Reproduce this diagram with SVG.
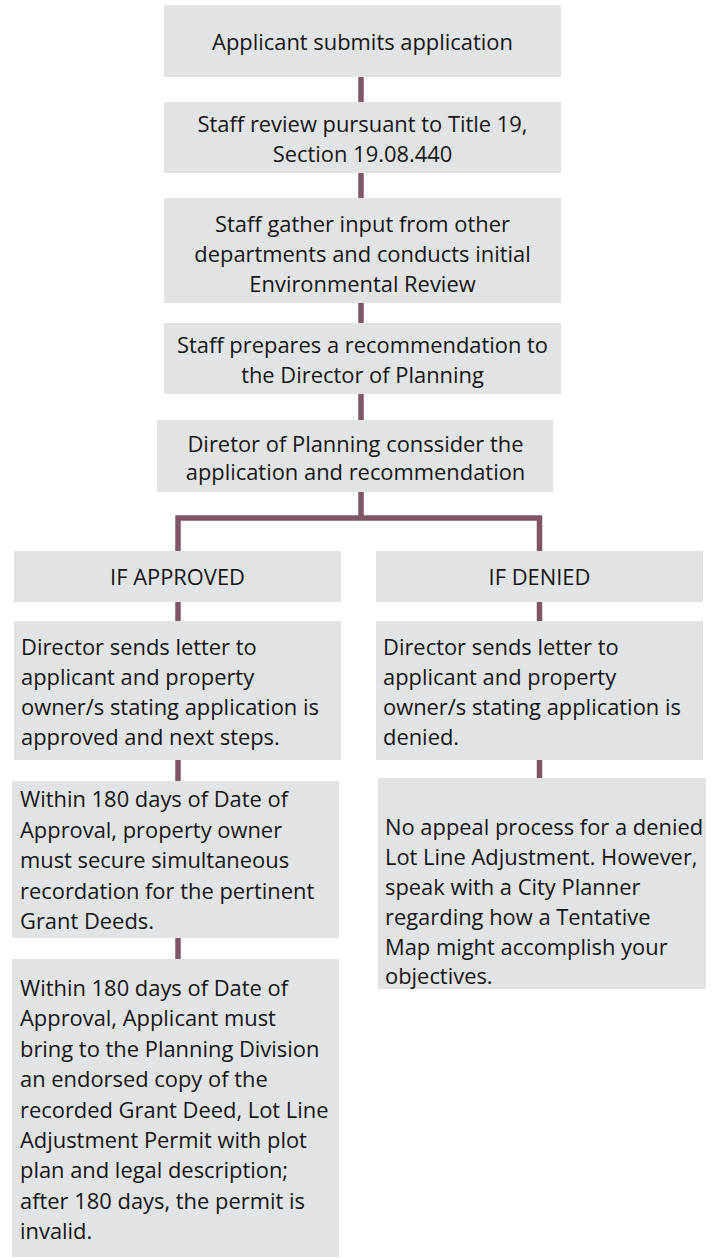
<svg xmlns="http://www.w3.org/2000/svg" width="714" height="1258" viewBox="0 0 714 1258">
<style>
.box{fill:#e2e3e5;}
.t{font-family:"Open Sans","Noto Sans","DejaVu Sans",sans-serif;font-size:21.9px;fill:#141414;}
.c{text-anchor:middle;}
.ln{stroke:#7f5668;stroke-width:5.5;fill:none;stroke-linecap:butt;}
</style>
<rect width="714" height="1258" fill="#ffffff"/>
<g id="connectors">
<line class="ln" x1="361" y1="77" x2="361" y2="102"/>
<line class="ln" x1="361" y1="173" x2="361" y2="198"/>
<line class="ln" x1="361" y1="303" x2="361" y2="323"/>
<line class="ln" x1="361" y1="394" x2="361" y2="420"/>
<line class="ln" x1="361" y1="492" x2="361" y2="518"/>
<polyline class="ln" points="178,551 178,518 539.5,518 539.5,551"/>
<line class="ln" x1="178" y1="602" x2="178" y2="621"/>
<line class="ln" x1="178" y1="760" x2="178" y2="781"/>
<line class="ln" x1="178" y1="938" x2="178" y2="959"/>
<line class="ln" x1="539.5" y1="602" x2="539.5" y2="621"/>
<line class="ln" x1="539.5" y1="760" x2="539.5" y2="778"/>
</g>
<g id="n1">
<rect class="box" x="164" y="5" width="397" height="72"/>
<text class="t c" x="362.5" y="50">Applicant submits application</text>
</g>
<g id="n2">
<rect class="box" x="164" y="102" width="397" height="71"/>
<text class="t c" x="362.5" y="132">Staff review pursuant to Title 19,</text>
<text class="t c" x="362.5" y="162">Section 19.08.440</text>
</g>
<g id="n3">
<rect class="box" x="164" y="198" width="397" height="105"/>
<text class="t c" x="362.5" y="232">Staff gather input from other</text>
<text class="t c" x="362.5" y="262">departments and conducts initial</text>
<text class="t c" x="362.5" y="292">Environmental Review</text>
</g>
<g id="n4">
<rect class="box" x="164" y="323" width="397" height="71"/>
<text class="t c" x="362.5" y="353">Staff prepares a recommendation to</text>
<text class="t c" x="362.5" y="383">the Director of Planning</text>
</g>
<g id="n5">
<rect class="box" x="157" y="420" width="396" height="72"/>
<text class="t c" x="355.5" y="452">Diretor of Planning conssider the</text>
<text class="t c" x="355.5" y="480">application and recommendation</text>
</g>
<g id="approved">
<rect class="box" x="14" y="551" width="327" height="51"/>
<text class="t c" x="177.5" y="585">IF APPROVED</text>
</g>
<g id="denied">
<rect class="box" x="376" y="551" width="327" height="51"/>
<text class="t c" x="539.5" y="585">IF DENIED</text>
</g>
<g id="approved-letter">
<rect class="box" x="14" y="621" width="327" height="139"/>
<text class="t" x="21" y="655">Director sends letter to</text>
<text class="t" x="21" y="685">applicant and property</text>
<text class="t" x="21" y="715">owner/s stating application is</text>
<text class="t" x="21" y="745">approved and next steps.</text>
</g>
<g id="denied-letter">
<rect class="box" x="376" y="621" width="327" height="139"/>
<text class="t" x="383" y="655">Director sends letter to</text>
<text class="t" x="383" y="685">applicant and property</text>
<text class="t" x="383" y="715">owner/s stating application is</text>
<text class="t" x="383" y="745">denied.</text>
</g>
<g id="recordation">
<rect class="box" x="12" y="781" width="327" height="157"/>
<text class="t" x="20" y="807">Within 180 days of Date of</text>
<text class="t" x="20" y="838">Approval, property owner</text>
<text class="t" x="20" y="868">must secure simultaneous</text>
<text class="t" x="20" y="899">recordation for the pertinent</text>
<text class="t" x="20" y="929">Grant Deeds.</text>
</g>
<g id="endorsed-copy">
<rect class="box" x="12" y="959" width="327" height="298"/>
<text class="t" x="20" y="996">Within 180 days of Date of</text>
<text class="t" x="20" y="1026">Approval, Applicant must</text>
<text class="t" x="20" y="1057">bring to the Planning Division</text>
<text class="t" x="20" y="1087">an endorsed copy of the</text>
<text class="t" x="20" y="1118">recorded Grant Deed, Lot Line</text>
<text class="t" x="20" y="1148">Adjustment Permit with plot</text>
<text class="t" x="20" y="1178">plan and legal description;</text>
<text class="t" x="20" y="1209">after 180 days, the permit is</text>
<text class="t" x="20" y="1239">invalid.</text>
</g>
<g id="no-appeal">
<rect class="box" x="378" y="778" width="328" height="211"/>
<text class="t" x="385" y="835">No appeal process for a denied</text>
<text class="t" x="385" y="865">Lot Line Adjustment. However,</text>
<text class="t" x="385" y="895">speak with a City Planner</text>
<text class="t" x="385" y="925">regarding how a Tentative</text>
<text class="t" x="385" y="955">Map might accomplish your</text>
<text class="t" x="385" y="984">objectives.</text>
</g>
</svg>
